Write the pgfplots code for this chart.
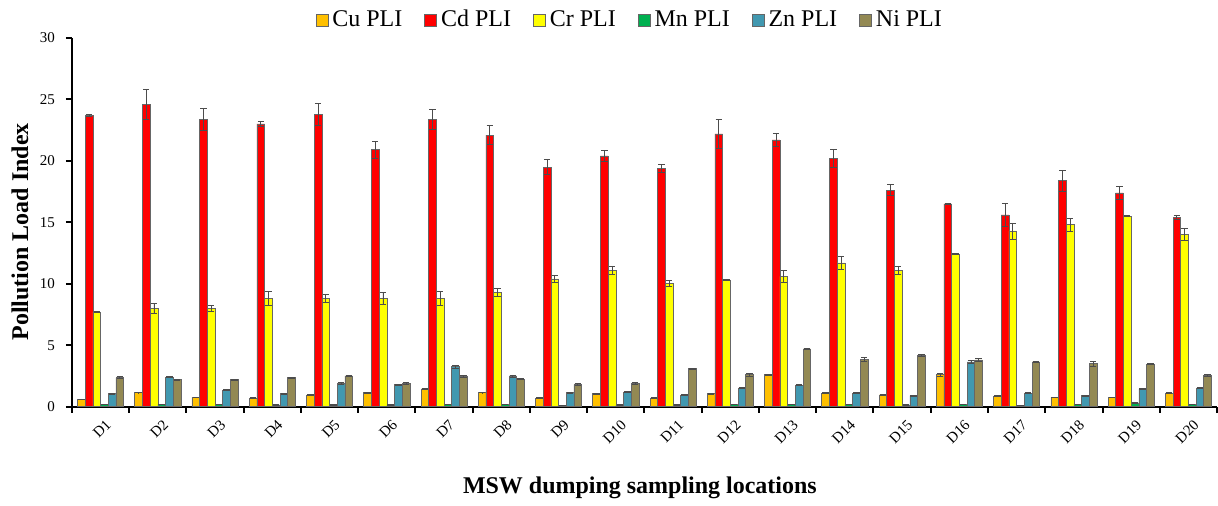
\documentclass[border=0pt]{standalone}
\usepackage{fontspec}
\setmainfont{Liberation Serif}
\usepackage{pgfplots}
\usepackage{pgfplotstable}
\pgfplotsset{compat=1.18}
\definecolor{cucol}{HTML}{FFC000}
\definecolor{cdcol}{HTML}{FF0000}
\definecolor{crcol}{HTML}{FFFF00}
\definecolor{mncol}{HTML}{00B050}
\definecolor{zncol}{HTML}{4198B0}
\definecolor{nicol}{HTML}{938953}
\pgfplotstableread{
x cu cue cd cde cr cre mn mne zn zne ni nie
1 0.60 0.03 23.7 0.05 7.70 0.05 0.18 0.01 1.05 0.05 2.35 0.08
2 1.15 0.03 24.6 1.20 8.00 0.40 0.18 0.01 2.40 0.06 2.20 0.05
3 0.75 0.03 23.4 0.90 8.00 0.25 0.18 0.01 1.35 0.06 2.20 0.03
4 0.70 0.02 23.0 0.20 8.80 0.55 0.15 0.01 1.05 0.03 2.35 0.06
5 0.95 0.03 23.8 0.90 8.80 0.35 0.15 0.01 1.90 0.06 2.50 0.03
6 1.15 0.04 20.9 0.70 8.80 0.50 0.15 0.01 1.80 0.03 1.90 0.05
7 1.45 0.03 23.4 0.80 8.80 0.60 0.18 0.01 3.25 0.12 2.45 0.06
8 1.15 0.03 22.1 0.75 9.30 0.30 0.18 0.01 2.50 0.08 2.25 0.06
9 0.70 0.03 19.5 0.60 10.4 0.30 0.12 0.01 1.15 0.04 1.80 0.06
10 1.05 0.04 20.4 0.45 11.1 0.35 0.15 0.01 1.20 0.04 1.90 0.05
11 0.70 0.03 19.4 0.30 10.0 0.25 0.15 0.01 0.95 0.03 3.10 0.04
12 1.05 0.03 22.2 1.20 10.3 0.05 0.18 0.01 1.50 0.04 2.60 0.12
13 2.60 0.05 21.7 0.55 10.6 0.45 0.18 0.01 1.75 0.04 4.70 0.05
14 1.10 0.03 20.2 0.70 11.7 0.55 0.18 0.01 1.10 0.04 3.85 0.15
15 0.95 0.03 17.6 0.45 11.1 0.35 0.15 0.01 0.90 0.04 4.15 0.08
16 2.60 0.10 16.5 0.05 12.4 0.05 0.18 0.01 3.65 0.15 3.80 0.12
17 0.85 0.03 15.6 0.90 14.3 0.65 0.10 0.01 1.10 0.03 3.65 0.04
18 0.75 0.03 18.4 0.85 14.8 0.55 0.18 0.01 0.90 0.03 3.50 0.20
19 0.75 0.03 17.4 0.55 15.5 0.05 0.30 0.01 1.45 0.04 3.45 0.03
20 1.10 0.06 15.4 0.20 14.0 0.50 0.20 0.01 1.50 0.05 2.55 0.05
}\data
\pgfplotsset{
  errb/.style={
    error bars/y dir=both, error bars/y explicit,
    error bars/error bar style={line width=0.4pt, black!70},
    error bars/error mark options={rotate=90, mark size=1.6pt, line width=0.4pt, black!70}},
}
\begin{document}
\begin{tikzpicture}
\begin{axis}[
  scale only axis, width=573pt, height=184.5pt,
  xmin=0.5, xmax=20.5, ymin=0, ymax=30,
  ybar=0pt, bar width=3.85pt,
  axis x line*=bottom, axis y line*=left,
  axis line style={line width=1pt,-},
  tick align=outside,
  /pgf/number format/assume math mode=true,
  ytick={0,5,...,30},
  major tick length=3pt,
  minor tick length=3pt,
  ytick style={line width=1pt, black},
  yticklabel style={font=\fontsize{7.5}{9}\selectfont, xshift=-2pt},
  xtick={1,...,20},
  minor xtick={0.5,1.5,...,20.5},
  xticklabels={D1,D2,D3,D4,D5,D6,D7,D8,D9,D10,D11,D12,D13,D14,D15,D16,D17,D18,D19,D20},
  x tick label style={rotate=45, anchor=north east, font=\fontsize{7.5}{9}\selectfont, inner sep=0.5pt, yshift=-3pt},
  major x tick style={draw=none},
  minor x tick style={draw=black, line width=1pt},
  ylabel={\bfseries Pollution Load Index},
  xlabel={\bfseries MSW dumping sampling locations},
  every axis y label/.style={at={(rel axis cs:0,0.474)}, xshift=-26pt, rotate=90, anchor=center, font=\fontsize{12}{14}\selectfont},
  every axis x label/.style={at={(rel axis cs:0.496,0)}, yshift=-40.5pt, anchor=center, font=\fontsize{12}{14}\selectfont},
  legend style={at={(0.488,1)}, anchor=center, yshift=9pt, draw=none, fill=none,
    legend columns=6, font=\fontsize{12}{14}\selectfont,
    /tikz/every even column/.append style={column sep=9pt}},
  legend image code/.code={\draw[#1, line width=0.4pt, draw=black!60] (0pt,-3pt) rectangle (6pt,3pt);},
  every axis plot/.append style={draw=black!60, line width=0.3pt},
]
\addplot[fill=cucol, errb] table[x=x, y=cu, y error=cue]{\data};
\addplot[fill=cdcol, errb] table[x=x, y=cd, y error=cde]{\data};
\addplot[fill=crcol, errb] table[x=x, y=cr, y error=cre]{\data};
\addplot[fill=mncol, errb] table[x=x, y=mn, y error=mne]{\data};
\addplot[fill=zncol, errb] table[x=x, y=zn, y error=zne]{\data};
\addplot[fill=nicol, errb] table[x=x, y=ni, y error=nie]{\data};
\legend{Cu PLI, Cd PLI, Cr PLI, Mn PLI, Zn PLI, Ni PLI}
\end{axis}
\path (current axis.south west) ++(-36pt,-47.5pt) (current axis.north east) ++(0pt,19pt);
\end{tikzpicture}
\end{document}
